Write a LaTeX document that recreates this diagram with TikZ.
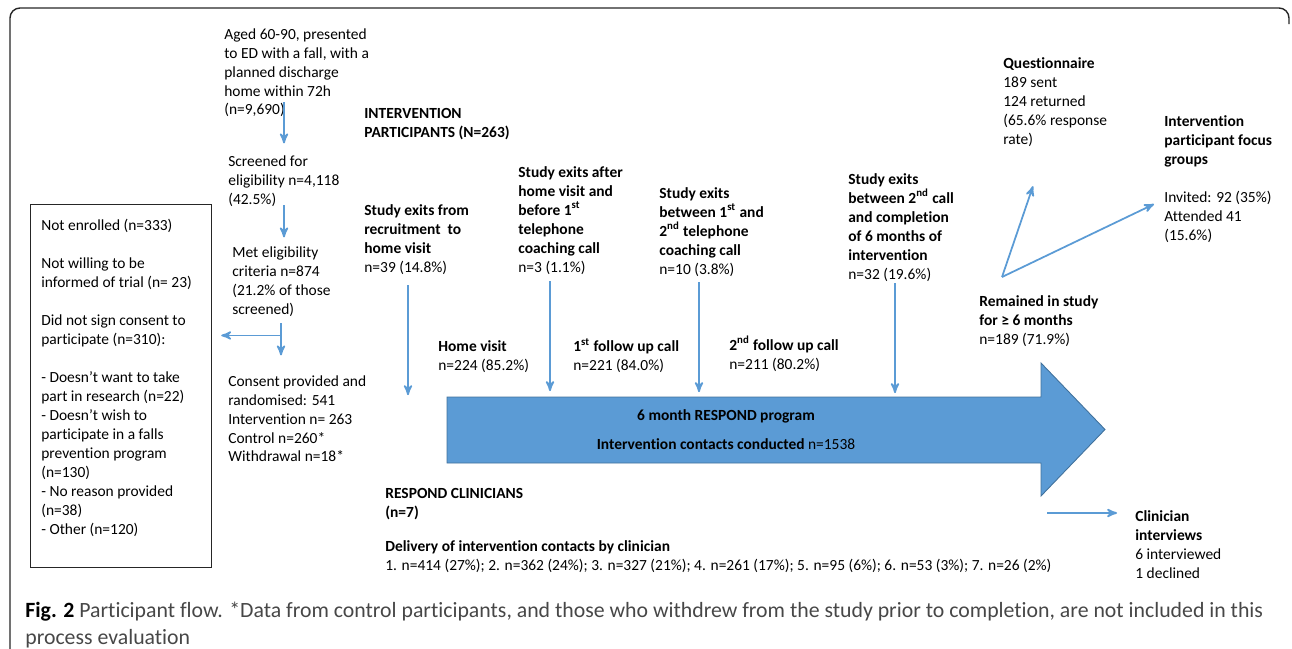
\documentclass[tikz,border=0pt]{standalone}
\usepackage{fontspec}
\setmainfont{Carlito}[Ligatures=NoCommon]
\usetikzlibrary{arrows,calc}
\definecolor{flowblue}{HTML}{5B9BD5}
\definecolor{flowedge}{HTML}{41719C}
\tikzstyle{txt} = [anchor=north west, align=left, inner sep=0pt, yshift=0.1cm,
    font=\fontsize{8.8}{10.8}\selectfont, execute at begin node=\strut, execute at end node=\strut]
\tikzstyle{captxt} = [anchor=north west, align=left, inner sep=0pt, text=black!72,
    font=\fontsize{12.4}{15.4}\selectfont, execute at begin node=\strut]
\tikzstyle{arr} = [->, draw=flowblue, line width=1pt]

\begin{document}
\begin{tikzpicture}[x=0.02cm,y=0.02cm,>=stealth']
  \useasboundingbox (0,0) rectangle (1292,-649);

  % frame
  \draw[black!85, line width=0.8pt, rounded corners=0.2cm] (10,-652) -- (10,-8) -- (1289,-8) -- (1289,-24);

  % recruitment column
  \node[txt] (aged)     at (224,-33)  {Aged 60-90, presented\\to ED with a fall, with a\\planned discharge\\home within 72h\\(n=9,690)};
  \node[txt] (screened) at (228,-160) {Screened for\\eligibility n=4,118\\(42.5\%)};
  \node[txt] (met)      at (232,-251) {Met eligibility\\criteria n=874\\(21.2\% of those\\screened)};
  \node[txt] (consent)  at (228,-380) {Consent provided and\\randomised: 541\\Intervention n= 263\\Control n=260*\\Withdrawal n=18*};

  \node[draw=black!85, line width=0.7pt, anchor=north west, minimum width=181*0.02cm,
        minimum height=363*0.02cm, inner sep=0pt] (nebox) at (30,-204) {};
  \node[txt] (netext) at (41,-224) {Not enrolled (n=333)\\[10.8pt]
      Not willing to be\\informed of trial (n= 23)\\[10.8pt]
      Did not sign consent to\\participate (n=310):\\[10.8pt]
      - Doesn’t want to take\\part in research (n=22)\\- Doesn’t wish to\\participate in a falls\\prevention program\\(n=130)\\- No reason provided\\(n=38)\\- Other (n=120)};

  \draw[arr] ($(aged.south west)+(60,18.6)$) -- ($(screened.north west)+(56,11.6)$);
  \draw[arr] ($(screened.south west)+(56,4.6)$) -- ($(met.north west)+(52,8.6)$);
  \draw[arr] ($(met.south west)+(49,-3.4)$) -- ($(consent.north west)+(53,19.6)$);
  \coordinate (split) at ($(met.south west)+(49,-15.4)$);
  \draw[arr, shorten >=0.18cm] (split) -- (split -| nebox.east);

  % intervention participants
  \node[txt] (ipart) at (364,-113) {\textbf{INTERVENTION}\\\textbf{PARTICIPANTS (N=263)}};
  \node[txt] (ex1) at (364,-209) {\textbf{Study exits from}\\\textbf{recruitment\ \ to}\\\textbf{home visit}\\n=39 (14.8\%)};
  \node[txt] (ex2) at (518,-171) {\textbf{Study exits after}\\\textbf{home visit and}\\\textbf{before 1\textsuperscript{st}}\\\textbf{telephone}\\\textbf{coaching call}\\n=3 (1.1\%)};
  \node[txt] (ex3) at (659,-192) {\textbf{Study exits}\\\textbf{between 1\textsuperscript{st} and}\\\textbf{2\textsuperscript{nd} telephone}\\\textbf{coaching call}\\n=10 (3.8\%)};
  \node[txt] (ex4) at (848,-178) {\textbf{Study exits}\\\textbf{between 2\textsuperscript{nd} call}\\\textbf{and completion}\\\textbf{of 6 months of}\\\textbf{intervention}\\n=32 (19.6\%)};

  \foreach \n/\dx/\gap in {1/44/7, 2/32/3, 3/40/2, 4/47/-2}
    \draw[arr] ($(ex\n.south west)+(\dx,-\gap)$) -- ++(0,-110);

  \node[txt] (home) at (438,-345) {\textbf{Home visit}\\n=224 (85.2\%)};
  \node[txt] (fu1)  at (573,-343) {\textbf{1\textsuperscript{st} follow up call}\\n=221 (84.0\%)};
  \node[txt] (fu2)  at (729,-341) {\textbf{2\textsuperscript{nd} follow up call}\\n=211 (80.2\%)};

  % program arrow
  \filldraw[fill=flowblue, draw=flowedge, line width=0.5pt]
    (447,-397) -- (1041,-397) -- (1041,-363) -- (1105,-429.5) -- (1041,-496) -- (1041,-463) -- (447,-463) -- cycle;
  \node[align=center, inner sep=0pt, font=\fontsize{8.8}{10.8}\selectfont] (program) at (726,-429.5)
    {\textbf{6 month RESPOND program}\\[5.7pt]\textbf{Intervention contacts conducted} n=1538};

  % after six months
  \node[txt] (remained) at (979,-300) {\textbf{Remained in study}\\\textbf{for ≥ 6 months}\\n=189 (71.9\%)};
  \node[txt] (quest) at (1003,-62) {\textbf{Questionnaire}\\189 sent\\124 returned\\(65.6\% response\\rate)};
  \node[txt] (focus) at (1164,-120) {\textbf{Intervention}\\\textbf{participant focus}\\\textbf{groups}\\[10.8pt]Invited: 92 (35\%)\\Attended 41\\(15.6\%)};

  \coordinate (rsplit) at ($(remained.north west)+(23,18)$);
  \draw[arr] (rsplit) -- ($(quest.south west)+(30,-36)$);
  \draw[arr] (rsplit) -- ($(focus.south west)+(-10,42)$);

  % clinicians
  \node[txt] (clinicians) at (385,-493) {\textbf{RESPOND CLINICIANS}\\\textbf{(n=7)}};
  \node[txt] (delivery) at (385,-545) {\textbf{Delivery of intervention contacts by clinician}\\1. n=414 (27\%); 2. n=362 (24\%); 3. n=327 (21\%); 4. n=261 (17\%); 5. n=95 (6\%); 6. n=53 (3\%); 7. n=26 (2\%)};
  \node[txt] (clin) at (1135,-515) {\textbf{Clinician}\\\textbf{interviews}\\6 interviewed\\1 declined};
  \draw[arr] ($(clin.north west)+(-88,-3)$) -- ++(70,0);

  % caption
  \node[captxt] (caption) at (25,-601.2) {\textcolor{black}{\textbf{Fig. 2}} Participant flow. *Data from control participants, and those who withdrew from the study prior to completion, are not included in this\\process evaluation};
\end{tikzpicture}
\end{document}
